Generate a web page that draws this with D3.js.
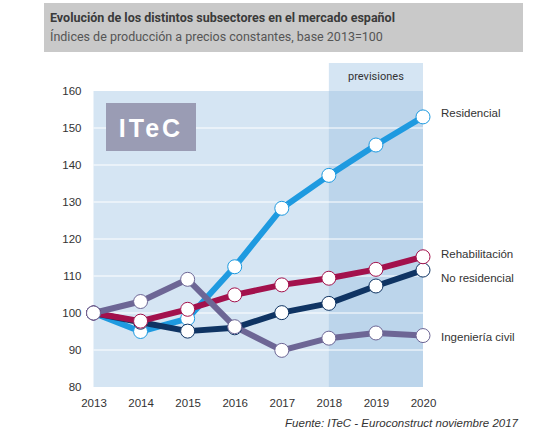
<!DOCTYPE html>
<html><head><meta charset="utf-8">
<script src="https://cdn.jsdelivr.net/npm/d3@7"></script>
<style>
body{margin:0;background:#fff;}
svg{display:block;}
</style></head>
<body>
<svg id="chart" width="550" height="433"></svg>
<script>
const years = [2013, 2014, 2015, 2016, 2017, 2018, 2019, 2020];
const yTicks = [80, 90, 100, 110, 120, 130, 140, 150, 160];
const seriesNames = ["Residencial", "No residencial", "Rehabilitación", "Ingeniería civil"];
const residencial = [100, 95, 98.5, 112.5, 128.3, 137.2, 145.4, 153];
const noResidencial = [100, 97.5, 95.1, 96, 100.1, 102.6, 107.3, 111.6];
const rehabilitacion = [100, 97.8, 101, 104.9, 107.6, 109.4, 111.8, 115.2];
const ingenieriaCivil = [100, 103.1, 109.1, 96.3, 89.9, 93.2, 94.6, 93.9];
const seriesColors = ["#1e9ae0", "#0f3463", "#a3114c", "#6d6695"];
const forecastStart = 2018;

const seriesData = [residencial, noResidencial, rehabilitacion, ingenieriaCivil];

const svg = d3.select("#chart");
const x = d3.scaleLinear().domain([2013, 2020]).range([93.5, 423]);
const y = d3.scaleLinear().domain([80, 160]).range([387, 91]);

// Header
svg.append("rect").attr("x", 44).attr("y", 3).attr("width", 479).attr("height", 49).attr("fill", "#c9c9c9");
svg.append("text").attr("x", 50).attr("y", 22).attr("font-family", "Roboto, sans-serif").attr("font-weight", "bold")
  .attr("font-size", 12.5).attr("fill", "#3a3a3a").text("Evolución de los distintos subsectores en el mercado español");
svg.append("text").attr("x", 50).attr("y", 41).attr("font-family", "Roboto, sans-serif")
  .attr("font-size", 12.5).attr("fill", "#555").text("Índices de producción a precios constantes, base 2013=100");

// Plot background
svg.append("rect").attr("x", x(2013)).attr("y", y(160)).attr("width", x(2020) - x(2013)).attr("height", y(80) - y(160)).attr("fill", "#d5e5f3");
// Forecast region
svg.append("rect").attr("x", x(forecastStart)).attr("y", y(160)).attr("width", x(2020) - x(forecastStart)).attr("height", y(80) - y(160)).attr("fill", "#bcd5eb");
svg.append("rect").attr("x", x(forecastStart)).attr("y", 63).attr("width", x(2020) - x(forecastStart)).attr("height", y(160) - 63).attr("fill", "#d5e5f3");
svg.append("text").attr("x", (x(forecastStart) + x(2020)) / 2).attr("y", 80).attr("text-anchor", "middle")
  .attr("font-family", "Roboto, sans-serif").attr("font-size", 11).attr("fill", "#333").text("previsiones");

// Gridlines
svg.append("g").selectAll("line").data(yTicks.filter(d => d > 80 && d < 160)).join("line")
  .attr("x1", x(2013)).attr("x2", x(2020)).attr("y1", d => y(d)).attr("y2", d => y(d))
  .attr("stroke", "#fff").attr("stroke-width", 1);

// Axes
const yAxis = svg.append("g").attr("transform", `translate(${x(2013)},0)`)
  .call(d3.axisLeft(y).tickValues(yTicks).tickSize(0).tickPadding(12));
yAxis.select(".domain").remove();
yAxis.selectAll("text").attr("font-family", "'Liberation Sans', Arial, sans-serif").attr("font-size", 11.5).attr("fill", "#333");

const xAxis = svg.append("g").attr("transform", `translate(0,${y(80)})`)
  .call(d3.axisBottom(x).tickValues(years).tickFormat(d3.format("d")).tickSize(0).tickPadding(12));
xAxis.select(".domain").remove();
xAxis.selectAll("text").attr("font-family", "'Liberation Sans', Arial, sans-serif").attr("font-size", 11.5).attr("fill", "#333");

// Logo
svg.append("rect").attr("x", 106).attr("y", 103).attr("width", 90).attr("height", 48).attr("fill", "#9a9cb4");
svg.append("text").attr("x", 151).attr("y", 137).attr("text-anchor", "middle")
  .attr("font-family", "'Liberation Sans', Arial, sans-serif").attr("font-weight", "bold").attr("font-size", 25)
  .attr("letter-spacing", 3).attr("fill", "#fff").text("ITeC");

// Lines
const line = d3.line().x((d, i) => x(years[i])).y(d => y(d));
const gLines = svg.append("g");
seriesData.forEach((s, k) => {
  gLines.append("path").datum(s).attr("d", line).attr("fill", "none")
    .attr("stroke", seriesColors[k]).attr("stroke-width", 6).attr("stroke-linejoin", "round");
});
seriesData.forEach((s, k) => {
  gLines.append("g").selectAll("circle").data(s).join("circle")
    .attr("cx", (d, i) => x(years[i])).attr("cy", d => y(d)).attr("r", 7)
    .attr("fill", "#fff").attr("stroke", seriesColors[k]).attr("stroke-width", 1);
});

// Series labels
const labelDy = [-4, 8, -2.5, 1];
seriesData.forEach((s, k) => {
  svg.append("text").attr("x", 441).attr("y", y(s[s.length - 1]) + 4 + labelDy[k])
    .attr("font-family", "'Liberation Sans', Arial, sans-serif").attr("font-size", 11.5).attr("fill", "#333")
    .text(seriesNames[k]);
});

// Source
svg.append("text").attr("x", 518).attr("y", 427).attr("text-anchor", "end")
  .attr("font-family", "'Liberation Sans', Arial, sans-serif").attr("font-style", "italic").attr("font-size", 11.5).attr("fill", "#333")
  .text("Fuente: ITeC - Euroconstruct noviembre 2017");
</script>
</body></html>
